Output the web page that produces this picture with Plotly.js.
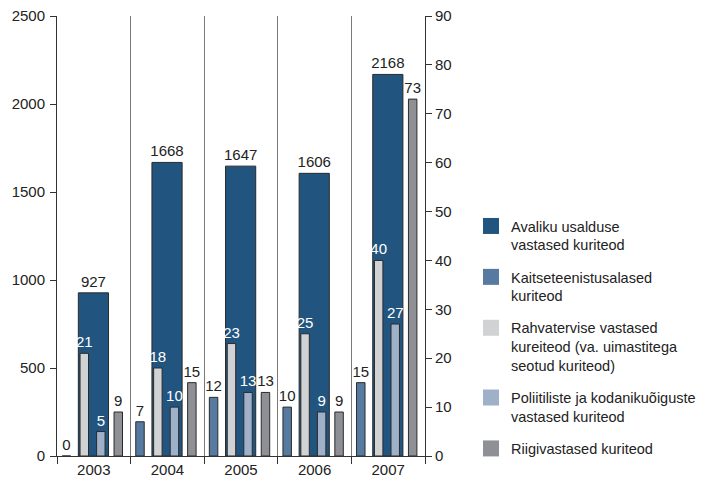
<!DOCTYPE html>
<html><head><meta charset="utf-8">
<script src="https://cdn.plot.ly/plotly-3.0.1.min.js"></script>
<style>html,body{margin:0;padding:0;background:#fff}#chart{width:719px;height:479px}</style>
</head><body><div id="chart"></div>
<script>
const years = ['2003','2004','2005','2006','2007'];
const avaliku = [927, 1668, 1647, 1606, 2168];
const kaitse = [0, 7, 12, 10, 15];
const rahva = [21, 18, 23, 25, 40];
const poliit = [5, 10, 13, 9, 27];
const riigi = [9, 15, 13, 9, 73];
const names = [
  'Avaliku usalduse<br>vastased kuriteod',
  'Kaitseteenistusalased<br>kuriteod',
  'Rahvatervise vastased<br>kureiteod (va. uimastitega<br>seotud kuriteod)',
  'Poliitiliste ja kodanikuõiguste<br>vastased kuriteod',
  'Riigivastased kuriteod'
];
const colors = ['#215580', '#577aa0', '#d1d2d4', '#9eb1c9', '#8e9095'];
const FONT = 'Liberation Sans, Arial, sans-serif';

function bar(vals, i, axis, offset, width, tcolor) {
  return {
    type: 'bar', x: years, y: vals, yaxis: axis, name: names[i],
    showlegend: false,
    offset: offset, width: width,
    marker: {color: colors[i], line: {color: '#2a2a2a', width: 1}},
    text: vals.map(String), textposition: 'outside', cliponaxis: false,
    constraintext: 'none',
    textfont: {family: FONT, size: 15, color: tcolor},
    hoverinfo: 'skip'
  };
}
function legendItem(i) {
  return {
    type: 'scatter', mode: 'markers', x: [null], y: [null], yaxis: 'y2',
    name: names[i], legendgroup: 'g' + i, showlegend: true,
    marker: {symbol: 'square', size: 16, color: colors[i], line: {width: 0}},
    hoverinfo: 'skip'
  };
}
const sw = 0.115;
const data = [
  bar(avaliku, 0, 'y', -0.21, 0.41, '#222'),
  bar(kaitse, 1, 'y2', -0.43, sw, '#222'),
  bar(rahva, 2, 'y2', -0.187, sw, '#ffffff'),
  bar(poliit, 3, 'y2', 0.038, sw, '#ffffff'),
  bar(riigi, 4, 'y2', 0.275, sw, '#222'),
  legendItem(0), legendItem(1), legendItem(2), legendItem(3), legendItem(4)
];
const layout = {
  width: 719, height: 479,
  margin: {l: 57, r: 294, t: 16, b: 23},
  paper_bgcolor: '#fff', plot_bgcolor: '#fff',
  barmode: 'overlay',
  hovermode: false,
  font: {family: FONT, size: 15, color: '#222'},
  xaxis: {
    type: 'category', tickson: 'boundaries', showgrid: true, gridcolor: '#7a7a7a', gridwidth: 1,
    ticks: 'outside', ticklen: 7, tickcolor: '#333', showline: true, linecolor: '#333', linewidth: 1,
    tickfont: {family: FONT, size: 15, color: '#222'}, zeroline: false
  },
  yaxis: {
    range: [0, 2500], tickvals: [0, 500, 1000, 1500, 2000, 2500], showgrid: false, zeroline: false,
    ticks: 'outside', ticklen: 6, tickcolor: '#333', showline: true, linecolor: '#333',
    tickfont: {family: FONT, size: 15, color: '#222'}, ticklabelstandoff: 2
  },
  yaxis2: {
    range: [0, 90], dtick: 10, overlaying: 'y', side: 'right', showgrid: false, zeroline: false,
    ticks: 'outside', ticklen: 6, tickcolor: '#333', showline: true, linecolor: '#333',
    tickfont: {family: FONT, size: 15, color: '#222'}
  },
  showlegend: true,
  legend: {
    x: 1.125, xanchor: 'left', y: 0.559, yanchor: 'top', valign: 'top',
    traceorder: 'grouped', tracegroupgap: 10.2,
    font: {family: FONT, size: 14.5, color: '#222'},
    bgcolor: 'rgba(0,0,0,0)'
  }
};
Plotly.newPlot('chart', data, layout, {displayModeBar: false, staticPlot: true});
</script></body></html>
